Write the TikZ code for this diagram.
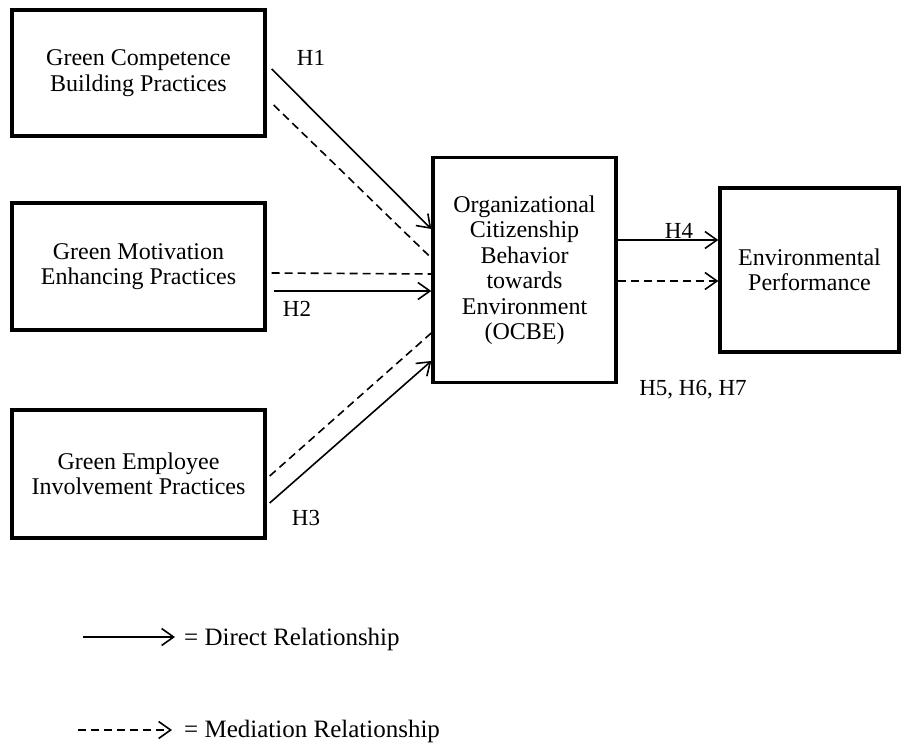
\documentclass[tikz,border=0pt]{standalone}
\usepackage{fontspec}
\setmainfont{Liberation Serif}
\usetikzlibrary{arrows.meta}
\begin{document}
\begin{tikzpicture}[x=1pt,y=-1pt,
  box/.style={draw,line width=3.4pt,align=center,inner sep=0pt,font=\fontsize{24}{25.5}\selectfont},
  lbl/.style={inner sep=0pt,font=\fontsize{23}{25}\selectfont},
  legtext/.style={inner sep=0pt,anchor=west,font=\fontsize{25}{28}\selectfont},
  tip/.style={-{Straight Barb[length=12pt,width=17pt,line width=1.6pt]}},
  direct/.style={line width=1.6pt,tip},
  mediate/.style={line width=1.6pt,dash pattern=on 8pt off 5pt},
  mediatearrow/.style={line width=1.6pt,dash pattern=on 8pt off 5pt,tip}
]
\useasboundingbox (0,0) rectangle (901,746);
\fill[white] (0,0) rectangle (901,746);

\node[box,minimum width=253pt,minimum height=126pt] (b1) at (138.5,73) {Green Competence\\Building Practices};
\node[box,minimum width=253pt,minimum height=127pt] (b2) at (138.5,266.5) {Green Motivation\\Enhancing Practices};
\node[box,minimum width=253pt,minimum height=128pt] (b3) at (138.5,474) {Green Employee\\Involvement Practices};
\node[box,minimum width=183pt,minimum height=225pt] (oc) at (524.5,270) {Organizational\\Citizenship\\Behavior\\towards\\Environment\\(OCBE)};
\node[box,minimum width=179pt,minimum height=164pt] (ep) at (809.5,270) {Environmental\\Performance};

% H1
\draw[direct] ([xshift=5pt,yshift=4pt]b1.east) -- ([yshift=41pt]oc.west);
\draw[mediate] ([xshift=7pt,yshift=-32pt]b1.east) -- ([yshift=12pt]oc.west);
% H2
\draw[mediate] ([xshift=5pt,yshift=-6.5pt]b2.east) -- ([yshift=-4pt]oc.west);
\draw[direct] ([xshift=7pt,yshift=-24.5pt]b2.east) -- ([yshift=-21pt]oc.west);
% H3
\draw[mediate] ([xshift=3pt,yshift=-2pt]b3.east) -- ([yshift=-63pt]oc.west);
\draw[direct] ([xshift=3pt,yshift=-29pt]b3.east) -- ([yshift=-91pt]oc.west);
% H4 and mediation
\draw[direct] ([yshift=30pt]oc.east) -- ([yshift=30pt]ep.west);
\draw[mediatearrow] ([yshift=-11pt]oc.east) -- ([yshift=-11pt]ep.west);

\node[lbl] (h1) at (311,58) {H1};
\node[lbl] (h2) at (297,309) {H2};
\node[lbl] (h3) at (306,518) {H3};
\node[lbl] (h4) at (679,231) {H4};
\node[lbl] (h567) at (693,390) {H5, H6, H7};

% legend
\coordinate (l1a) at (83,637);
\coordinate (l1b) at (175,637);
\coordinate (l2a) at (78,730);
\coordinate (l2b) at (172,730);
\draw[direct] (l1a) -- (l1b);
\draw[mediatearrow] (l2a) -- (l2b);
\node[legtext] (t1) at (184,639) {= Direct Relationship};
\node[legtext] (t2) at (184,731) {= Mediation Relationship};
\end{tikzpicture}
\end{document}
